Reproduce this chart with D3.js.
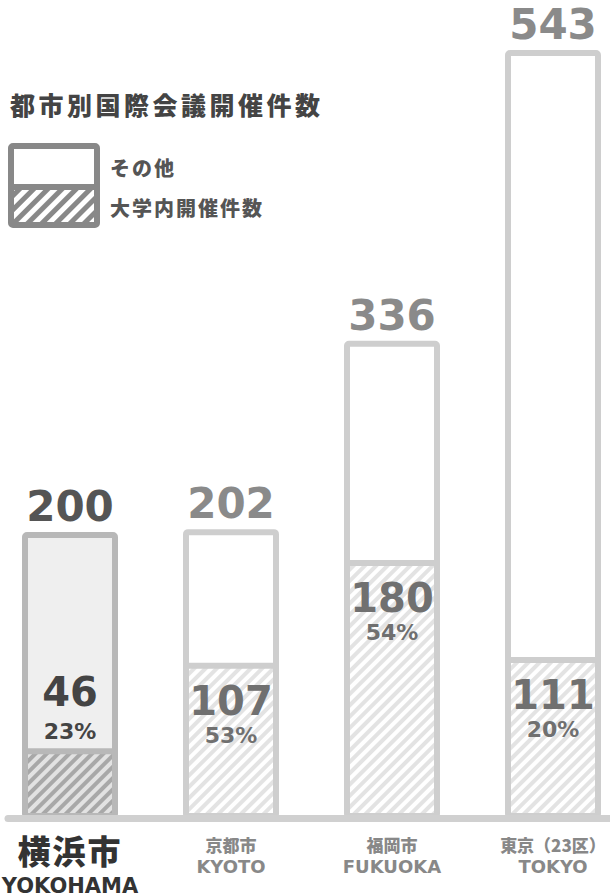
<!DOCTYPE html>
<html>
<head>
<meta charset="utf-8">
<script src="https://cdn.jsdelivr.net/npm/d3@7"></script>
<style>
  body { margin: 0; background: #fff; }
  svg { display: block; }
  .num { font-family: "DejaVu Sans", sans-serif; font-weight: bold; }
  .jp { font-family: "Noto Sans CJK JP", sans-serif; font-weight: 900; }
</style>
</head>
<body>
<div id="chart"></div>
<script>
// ---- data ----
var cities = ["横浜市", "京都市", "福岡市", "東京（23区）"];
var citiesEn = ["YOKOHAMA", "KYOTO", "FUKUOKA", "TOKYO"];
var totals = [200, 202, 336, 543];
var universityCounts = [46, 107, 180, 111];
var universityShares = [23, 53, 54, 20];
var titleText = "都市別国際会議開催件数";
var legendLabels = ["その他", "大学内開催件数"];

var dataset = cities.map(function (c, i) {
	return {
		key: c, en: citiesEn[i], total: totals[i],
		uni: universityCounts[i], share: universityShares[i],
		highlight: i === 0
	};
});

//=================== SVG canvas ====================
var svgWidth = 610;
var svgHeight = 896;
var strokeW = 6;

var svg = d3.select("#chart").append("svg")
	.attr("width", svgWidth)
	.attr("height", svgHeight);

var defs = svg.append("defs");

function stripes(id, bg, fg, size) {
	var p = defs.append("pattern")
		.attr("id", id)
		.attr("patternUnits", "userSpaceOnUse")
		.attr("width", size)
		.attr("height", size)
		.attr("patternTransform", "rotate(45)");
	p.append("rect").attr("width", size).attr("height", size).attr("fill", bg);
	p.append("rect").attr("width", size / 2).attr("height", size).attr("fill", fg);
}
stripes("hatchLight", "#ffffff", "#e3e3e3", 8);
stripes("hatchDark", "#a8a8a8", "#e2e2e2", 8);
stripes("hatchLegend", "#888888", "#ffffff", 10);

//=================== scales ====================
var xScale = d3.scaleBand()
	.domain(cities)
	.range([22, 601])
	.paddingInner(0.4037)
	.paddingOuter(0);

var yScale = d3.scaleLinear()
	.domain([0, d3.max(totals)])
	.range([816, 53]);

//=================== title + legend ====================
svg.append("text")
	.attr("class", "jp")
	.attr("x", 10)
	.attr("y", 115)
	.attr("fill", "#444")
	.style("font-size", "25px")
	.style("letter-spacing", "3.5px")
	.text(titleText);

var lg = svg.append("g").attr("class", "legend");
lg.append("rect")
	.attr("x", 11).attr("y", 187).attr("width", 86).attr("height", 38)
	.attr("fill", "url(#hatchLegend)");
lg.append("rect")
	.attr("x", 11).attr("y", 146).attr("width", 86).attr("height", 79)
	.attr("rx", 2)
	.attr("fill", "none")
	.attr("stroke", "#888")
	.attr("stroke-width", strokeW);
lg.append("line")
	.attr("x1", 11).attr("x2", 97).attr("y1", 187).attr("y2", 187)
	.attr("stroke", "#888")
	.attr("stroke-width", strokeW);
lg.selectAll("text.lab")
	.data(legendLabels)
	.enter()
	.append("text")
	.attr("class", "jp lab")
	.attr("x", 110)
	.attr("y", function (d, i) { return i === 0 ? 176 : 216; })
	.attr("fill", "#555")
	.style("font-size", "20px")
	.style("letter-spacing", "2px")
	.text(function (d) { return d; });

//=================== bars ====================
var bars = svg.selectAll("g.bar")
	.data(dataset, function (d) { return d.key; })
	.enter()
	.append("g")
	.attr("class", "bar");

var x0 = function (d) { return xScale(d.key) + strokeW / 2; };
var bw = xScale.bandwidth() - strokeW;
var cx = function (d) { return xScale(d.key) + xScale.bandwidth() / 2; };
var edge = function (d) { return d.highlight ? "#b8b8b8" : "#cecece"; };

// upper part (その他)
bars.append("rect")
	.attr("x", x0)
	.attr("y", function (d) { return yScale(d.total); })
	.attr("width", bw)
	.attr("height", function (d) { return yScale(d.uni) - yScale(d.total); })
	.attr("fill", function (d) { return d.highlight ? "#efefef" : "#ffffff"; });

// lower part (大学内開催件数)
bars.append("rect")
	.attr("x", x0)
	.attr("y", function (d) { return yScale(d.uni); })
	.attr("width", bw)
	.attr("height", function (d) { return yScale(0) - yScale(d.uni); })
	.attr("fill", function (d) { return d.highlight ? "url(#hatchDark)" : "url(#hatchLight)"; });

// outline
bars.append("rect")
	.attr("x", x0)
	.attr("y", function (d) { return yScale(d.total); })
	.attr("width", bw)
	.attr("height", function (d) { return yScale(0) - yScale(d.total); })
	.attr("rx", 2)
	.attr("fill", "none")
	.attr("stroke", edge)
	.attr("stroke-width", strokeW);

// divider
bars.append("line")
	.attr("x1", x0)
	.attr("x2", function (d) { return x0(d) + bw; })
	.attr("y1", function (d) { return yScale(d.uni); })
	.attr("y2", function (d) { return yScale(d.uni); })
	.attr("stroke", edge)
	.attr("stroke-width", strokeW);

// total on top
bars.append("text")
	.attr("class", "num")
	.attr("x", cx)
	.attr("y", function (d) { return yScale(d.total) - 14; })
	.attr("text-anchor", "middle")
	.attr("fill", function (d) { return d.highlight ? "#555" : "#8a8a8a"; })
	.style("font-size", "42px")
	.text(function (d) { return d.total; });

// university count + share
// yokohama's hatch is too short, so its labels sit above the divider
bars.append("text")
	.attr("class", "num")
	.attr("x", cx)
	.attr("y", function (d) { return d.highlight ? yScale(d.uni) - 45 : yScale(d.uni) + 49; })
	.attr("text-anchor", "middle")
	.attr("fill", function (d) { return d.highlight ? "#444" : "#707070"; })
	.style("font-size", "40px")
	.text(function (d) { return d.uni; });

bars.append("text")
	.attr("class", "num")
	.attr("x", cx)
	.attr("y", function (d) { return d.highlight ? yScale(d.uni) - 12 : yScale(d.uni) + 77; })
	.attr("text-anchor", "middle")
	.attr("fill", function (d) { return d.highlight ? "#444" : "#707070"; })
	.style("font-size", "22px")
	.text(function (d) { return d.share + "%"; });

//=================== baseline ====================
svg.append("line")
	.attr("x1", 8).attr("x2", svgWidth)
	.attr("y1", yScale(0) + 2.5).attr("y2", yScale(0) + 2.5)
	.attr("stroke", "#d0d0d0")
	.attr("stroke-width", 7)
	.attr("stroke-linecap", "round");

//=================== city labels ====================
bars.append("text")
	.attr("class", "jp")
	.attr("x", cx)
	.attr("y", function (d) { return d.highlight ? 864 : 852; })
	.attr("text-anchor", "middle")
	.attr("fill", function (d) { return d.highlight ? "#333" : "#888"; })
	.style("font-size", function (d) { return d.highlight ? "33px" : "17px"; })
	.style("letter-spacing", function (d) { return d.highlight ? "2px" : "0px"; })
	.text(function (d) { return d.key; });

bars.append("text")
	.attr("class", "num")
	.attr("x", cx)
	.attr("y", function (d) { return d.highlight ? 893 : 873; })
	.attr("text-anchor", "middle")
	.attr("fill", function (d) { return d.highlight ? "#333" : "#888"; })
	.style("font-size", function (d) { return d.highlight ? "21px" : "18px"; })
	.text(function (d) { return d.en; });
</script>
</body>
</html>
